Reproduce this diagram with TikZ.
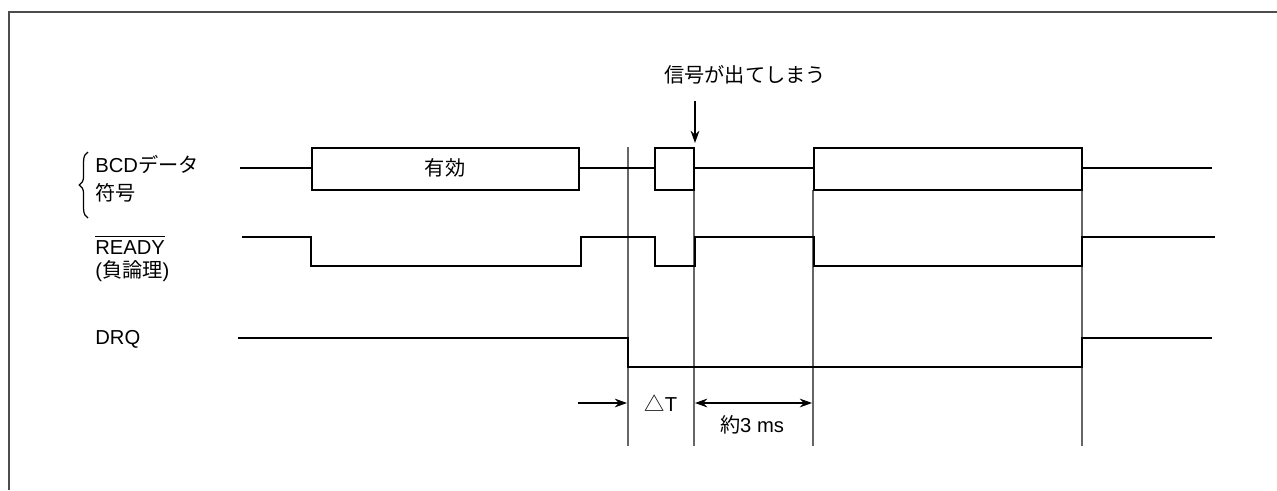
\documentclass[tikz,border=0pt]{standalone}
\usepackage{fontspec}
\setmainfont{Liberation Sans}
\newfontfamily\cjk{Noto Sans CJK JP}
\usetikzlibrary{arrows.meta,decorations.pathreplacing}
\begin{document}
\begin{tikzpicture}[x=0.02cm,y=-0.02cm,
  sig/.style={line width=1.2pt,black},
  guide/.style={line width=0.6pt,gray!80!black},
  lbl/.style={font=\fontsize{11.5}{13}\selectfont,inner sep=0pt},
  dim/.style={line width=0.7pt,-{Stealth[length=7pt,width=5pt]}}]
  \useasboundingbox (0,0) rectangle (1277,490);
  \draw[line width=1.2pt,gray!60!black] (9,490) -- (9,12) -- (1277,12);
  % signal names
  \begin{scope}[every node/.style={lbl,anchor=base west}]
  \node (bcd) at (95,172) {BCD{\cjk データ}};
  \node (fugo) at (95,200) {\cjk 符号};
  \node (ready) at (95,254) {$\overline{\rule{0pt}{8.8pt}\mbox{READY}}$};
  \node (neg) at (95,277) {({\cjk 負論理})};
  \node (drq) at (95,344) {DRQ};
  \end{scope}
  \draw[line width=0.7pt,decorate,decoration={brace,amplitude=5pt}] (88,218) -- (88,152);
  % guides
  \draw[guide] (628,147) -- (628,446);
  \foreach \gx in {694,813,1082}
    \draw[guide] (\gx,190) -- (\gx,446);
  % BCD data
  \draw[sig] (240,168) -- (312,168);
  \draw[sig] (312,148) rectangle (579,190);
  \draw[sig] (579,168) -- (655,168);
  \draw[sig] (655,148) rectangle (694,190);
  \draw[sig] (694,168) -- (814,168);
  \draw[sig] (814,148) rectangle (1082,190);
  \draw[sig] (1082,168) -- (1212,168);
  \node[lbl] (yuko) at (445,168) {\cjk 有効};
  % READY
  \draw[sig] (242,237) -| (311,266) -| (581,237) -| (655,266) -| (695,237)
    -| (814,266) -| (1082,237) -- (1215,237);
  % DRQ
  \draw[sig] (238,338) -| (628,367) -| (1082,338) -- (1212,338);
  % timing
  \coordinate (a0) at (578,403);
  \coordinate (a1) at (627,403);
  \coordinate (b0) at (695,403);
  \coordinate (b1) at (812,403);
  \draw[dim] (a0) -- (a1);
  \node[lbl] (dt) at (661,403) {{\cjk △}T};
  \draw[dim,{Stealth[length=7pt,width=5pt]}-{Stealth[length=7pt,width=5pt]}] (b0) -- (b1);
  \node[lbl] (ms) at (752,425) {{\cjk 約}3 ms};
  % glitch note
  \node[lbl] (note) at (745,75) {\cjk 信号が出てしまう};
  \coordinate (n0) at (695,101);
  \coordinate (n1) at (695,143);
  \draw[dim] (n0) -- (n1);
\end{tikzpicture}
\end{document}
